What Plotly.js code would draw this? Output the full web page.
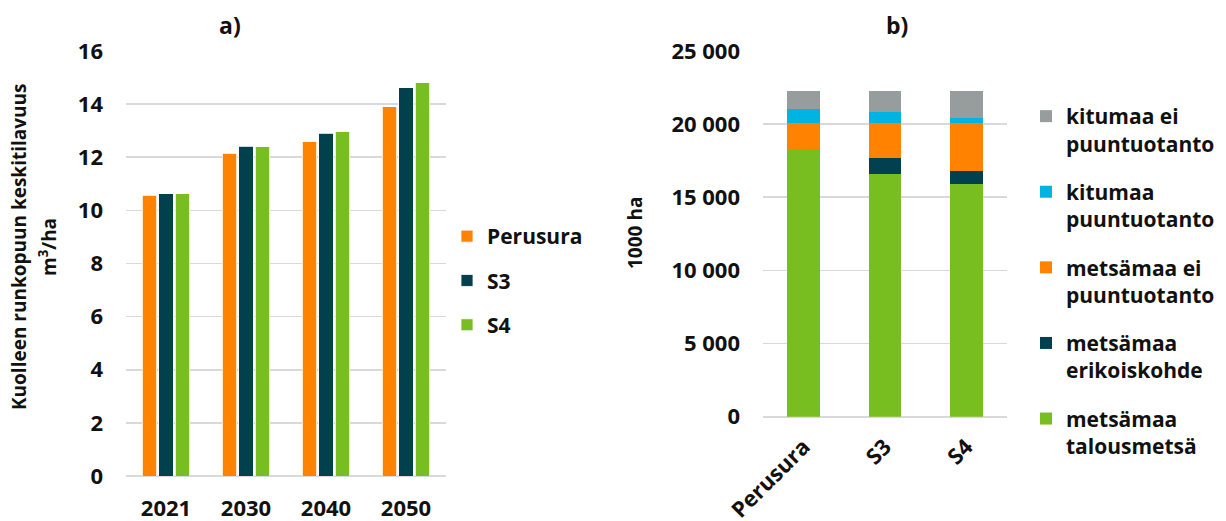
<!DOCTYPE html>
<html>
<head>
<meta charset="utf-8">
<script src="https://cdn.plot.ly/plotly-3.0.1.min.js"></script>
<style>
  html, body { margin: 0; padding: 0; background: #ffffff; }
  #chart { width: 1226px; height: 521px; }
</style>
</head>
<body>
<div id="chart"></div>
<script>
// Panel a: mean volume of dead stemwood (m3/ha) by year and scenario
const years = ['2021', '2030', '2040', '2050'];
const perusura = [10.57, 12.16, 12.58, 13.90];
const s3 = [10.62, 12.42, 12.90, 14.61];
const s4 = [10.62, 12.40, 12.96, 14.81];

// Panel b: land area (1000 ha) by land class and scenario
const scenarios = ['Perusura', 'S3', 'S4'];
const talousmetsa = [18220, 16580, 15940];
const erikoiskohde = [0, 1090, 860];
const metsamaaEi = [1890, 2440, 3310];
const kitumaaPuun = [930, 750, 340];
const kitumaaEi = [1230, 1410, 1820];

const C = {
  orange: '#FF8200',
  navy: '#00404F',
  green: '#78BE21',
  cyan: '#00B4E1',
  gray: '#979D9D'
};

const FONT = 'Open Sans, Noto Sans, sans-serif';
const INK = '#111111';
const W = 1226, H = 521;
const px = v => v / W;          // horizontal pixel -> paper
const py = v => (H - v) / H;    // vertical pixel (from top) -> paper
const bold = size => ({ family: FONT, size: size, color: INK, weight: 700 });

function groupBar(name, vals, color, grp) {
  return {
    type: 'bar', name: name, x: years, y: vals,
    xaxis: 'x', yaxis: 'y', offsetgroup: grp, legend: 'legend', legendgroup: grp,
    marker: { color: color, line: { color: '#ffffff', width: 0.8 } },
    hoverinfo: 'skip'
  };
}

// stacked bars; legend rank puts the top segment first in the legend
function stackBar(name, vals, color, rank) {
  return {
    type: 'bar', name: name, x: scenarios, y: vals,
    xaxis: 'x2', yaxis: 'y2', width: 0.4, legend: 'legend2', legendgroup: name,
    legendrank: rank,
    marker: { color: color, line: { width: 0 } },
    hoverinfo: 'skip'
  };
}

const data = [
  groupBar('Perusura', perusura, C.orange, 'p'),
  groupBar('S3', s3, C.navy, 's3'),
  groupBar('S4', s4, C.green, 's4'),
  stackBar('metsämaa<br>talousmetsä', talousmetsa, C.green, 5),
  stackBar('metsämaa<br>erikoiskohde', erikoiskohde, C.navy, 4),
  stackBar('metsämaa ei<br>puuntuotanto', metsamaaEi, C.orange, 3),
  stackBar('kitumaa<br>puuntuotanto', kitumaaPuun, C.cyan, 2),
  stackBar('kitumaa ei<br>puuntuotanto', kitumaaEi, C.gray, 1)
];

const tickFont = bold(22);
const gridStyle = { showgrid: true, gridcolor: '#D9D9D9', gridwidth: 1.6, zeroline: true, zerolinecolor: '#D9D9D9', zerolinewidth: 1.6, showline: false, ticks: '' };

const layout = {
  width: W, height: H,
  margin: { l: 0, r: 0, t: 0, b: 0 },
  paper_bgcolor: '#ffffff', plot_bgcolor: '#ffffff',
  font: bold(21),
  separators: ', ',
  barmode: 'stack',
  bargap: 0.385,
  bargroupgap: 0.13,
  showlegend: true,
  xaxis: {
    domain: [px(126), px(446)], anchor: 'y', type: 'category',
    showgrid: false, zeroline: false, showline: false, ticks: '',
    tickfont: tickFont, ticklabelstandoff: 17
  },
  yaxis: Object.assign({
    domain: [py(476), py(51)], anchor: 'x', range: [0, 16], dtick: 2,
    tickfont: tickFont, ticklabelstandoff: 22
  }, gridStyle),
  xaxis2: {
    domain: [px(763), px(1007)], anchor: 'y2', type: 'category',
    showgrid: false, zeroline: false, showline: false, ticks: '',
    tickangle: -45, tickfont: tickFont, ticklabelstandoff: 12
  },
  yaxis2: Object.assign({
    domain: [py(416.7), py(51)], anchor: 'x2', range: [0, 25000], dtick: 5000,
    tickformat: ',d', tickfont: tickFont, ticklabelstandoff: 22
  }, gridStyle),
  legend: {
    x: px(447), xanchor: 'left', y: py(216), yanchor: 'top',
    font: bold(21),
    traceorder: 'grouped', tracegroupgap: 14, bgcolor: 'rgba(0,0,0,0)'
  },
  legend2: {
    x: px(1026), xanchor: 'left', y: py(96), yanchor: 'top',
    font: bold(21),
    traceorder: 'grouped', tracegroupgap: 18, valign: 'top', bgcolor: 'rgba(0,0,0,0)'
  },
  annotations: [
    { text: 'a)', x: px(230), y: py(25), xref: 'paper', yref: 'paper', showarrow: false,
      xanchor: 'center', yanchor: 'middle', font: bold(23) },
    { text: 'b)', x: px(897), y: py(25), xref: 'paper', yref: 'paper', showarrow: false,
      xanchor: 'center', yanchor: 'middle', font: bold(23) },
    { text: 'Kuolleen runkopuun keskitilavuus', x: px(19), y: py(247), xref: 'paper', yref: 'paper',
      showarrow: false, textangle: -90, xanchor: 'center', yanchor: 'middle', font: bold(19) },
    { text: 'm<sup>3</sup>/ha', x: px(48), y: py(247), xref: 'paper', yref: 'paper',
      showarrow: false, textangle: -90, xanchor: 'center', yanchor: 'middle', font: bold(19) },
    { text: '1000 ha', x: px(635), y: py(233), xref: 'paper', yref: 'paper',
      showarrow: false, textangle: -90, xanchor: 'center', yanchor: 'middle', font: bold(19) }
  ]
};

Plotly.newPlot('chart', data, layout, { displayModeBar: false, staticPlot: true });
</script>
</body>
</html>
